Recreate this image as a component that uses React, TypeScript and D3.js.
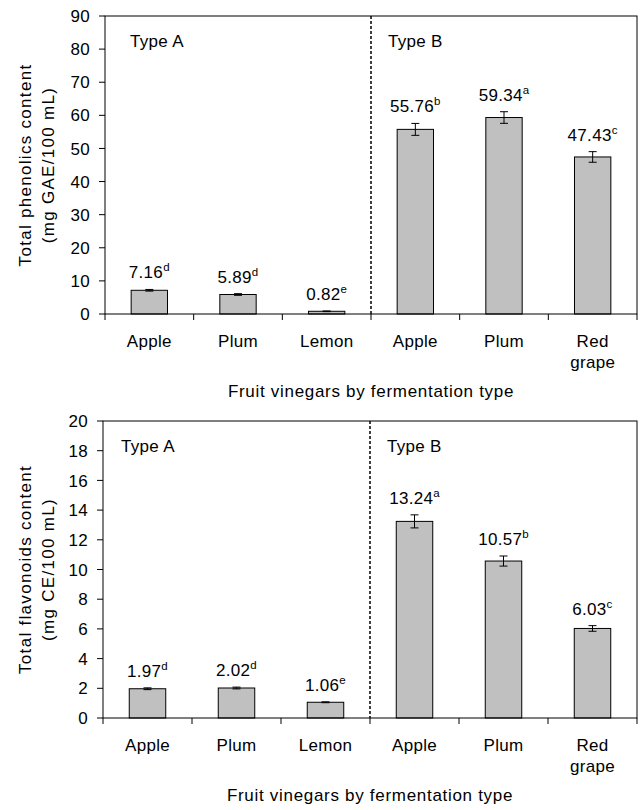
import React from "react";
import * as d3 from "d3";

// categories and groups
const categories = ["Apple", "Plum", "Lemon", "Apple", "Plum", "Red grape"];
const groupLabels = ["Type A", "Type B"];
const xTitle = "Fruit vinegars by fermentation type";

// total phenolics (mg GAE/100 mL)
const phenolicsValues = [7.16, 5.89, 0.82, 55.76, 59.34, 47.43];
const phenolicsErrors = [0.25, 0.25, 0.1, 1.8, 1.75, 1.6];
const phenolicsLetters = ["d", "d", "e", "b", "a", "c"];
const phenolicsTicks = [0, 10, 20, 30, 40, 50, 60, 70, 80, 90];
const phenolicsTitle = ["Total phenolics content", "(mg GAE/100 mL)"];

// total flavonoids (mg CE/100 mL)
const flavonoidsValues = [1.97, 2.02, 1.06, 13.24, 10.57, 6.03];
const flavonoidsErrors = [0.06, 0.06, 0.03, 0.44, 0.34, 0.19];
const flavonoidsLetters = ["d", "d", "e", "a", "b", "c"];
const flavonoidsTicks = [0, 2, 4, 6, 8, 10, 12, 14, 16, 18, 20];
const flavonoidsTitle = ["Total flavonoids content", "(mg CE/100 mL)"];

const FONT = "'Liberation Sans', Arial, sans-serif";
const FS = 17;

function Panel({ left, right, top, bottom, ticks, values, errors, letters, titleLines, typeAOffset }) {
  const idx = categories.map((_, i) => i);
  const x = d3.scaleBand<number>().domain(idx).range([left, right]);
  const y = d3
    .scaleLinear()
    .domain([0, ticks[ticks.length - 1]])
    .range([bottom, top]);
  const bw = x.bandwidth();
  const barW = bw * 0.41;
  const divider = x(3) as number;
  const boundaries = idx.map((i) => x(i) as number).concat([right]);
  const midY = (top + bottom) / 2;

  return (
    <g fontFamily={FONT} fill="#000">
      {/* y title */}
      {titleLines.map((t, i) => (
        <text
          key={t}
          transform={`translate(${25 + i * 23},${midY}) rotate(-90)`}
          textAnchor="middle"
          dy="0.35em"
          fontSize={FS}
          letterSpacing={1.3}
        >
          {t}
        </text>
      ))}

      {/* y axis ticks */}
      {ticks.map((t) => (
        <g key={t}>
          <line x1={left - 6} x2={left} y1={y(t)} y2={y(t)} stroke="#000" />
          <text x={left - 15} y={y(t)} dy="0.36em" textAnchor="end" fontSize={FS} letterSpacing={0.3}>
            {t}
          </text>
        </g>
      ))}

      {/* bars */}
      {values.map((v, i) => {
        const cx = (x(i) as number) + bw / 2;
        return (
          <rect
            key={i}
            x={cx - barW / 2}
            y={y(v)}
            width={barW}
            height={bottom - y(v)}
            fill="#c0c0c0"
            stroke="#000"
            strokeWidth={1}
          />
        );
      })}

      {/* error bars */}
      {values.map((v, i) => {
        const cx = (x(i) as number) + bw / 2;
        const hi = y(v + errors[i]);
        const lo = y(v - errors[i]);
        return (
          <g key={i} stroke="#000" strokeWidth={1}>
            <line x1={cx} x2={cx} y1={hi} y2={lo} />
            <line x1={cx - 4} x2={cx + 4} y1={hi} y2={hi} />
            <line x1={cx - 4} x2={cx + 4} y1={lo} y2={lo} />
          </g>
        );
      })}

      {/* value labels */}
      {values.map((v, i) => {
        const cx = (x(i) as number) + bw / 2;
        return (
          <text key={i} x={cx} y={y(v + errors[i]) - 11} textAnchor="middle" fontSize={FS} letterSpacing={0.3}>
            {v.toFixed(2)}
            <tspan fontSize={11.5} dy={-7}>
              {letters[i]}
            </tspan>
          </text>
        );
      })}

      {/* frame */}
      <rect x={left} y={top} width={right - left} height={bottom - top} fill="none" stroke="#000" />
      <line x1={divider} x2={divider} y1={top} y2={bottom} stroke="#000" strokeWidth={1.5} strokeDasharray="3,2" />

      {/* x ticks */}
      {boundaries.map((b, i) => (
        <line key={i} x1={b} x2={b} y1={bottom} y2={bottom + 6} stroke="#000" />
      ))}

      {/* category labels */}
      {categories.map((c, i) => {
        const cx = (x(i) as number) + bw / 2;
        return (
          <text key={i} x={cx} y={bottom + 33} textAnchor="middle" fontSize={FS} letterSpacing={0.3}>
            {c.split(" ").map((w, j) => (
              <tspan key={j} x={cx} dy={j === 0 ? 0 : 21}>
                {w}
              </tspan>
            ))}
          </text>
        );
      })}

      {/* group labels */}
      <text x={left + typeAOffset} y={top + 31} fontSize={FS} letterSpacing={0.3}>
        {groupLabels[0]}
      </text>
      <text x={divider + 17} y={top + 31} fontSize={FS} letterSpacing={0.3}>
        {groupLabels[1]}
      </text>

      {/* x title */}
      <text x={(left + right) / 2} y={bottom + 83} textAnchor="middle" fontSize={FS} letterSpacing={0.7}>
        {xTitle}
      </text>
    </g>
  );
}

export default function App() {
  return (
    <svg width={640} height={810} style={{ position: "absolute", left: 0, top: 0, background: "#fff" }}>
      <rect width={640} height={810} fill="#fff" />
      <Panel
        left={105}
        right={637}
        top={16}
        bottom={314}
        ticks={phenolicsTicks}
        values={phenolicsValues}
        errors={phenolicsErrors}
        letters={phenolicsLetters}
        titleLines={phenolicsTitle}
        typeAOffset={25}
      />
      <Panel
        left={103}
        right={637}
        top={421}
        bottom={718}
        ticks={flavonoidsTicks}
        values={flavonoidsValues}
        errors={flavonoidsErrors}
        letters={flavonoidsLetters}
        titleLines={flavonoidsTitle}
        typeAOffset={18}
      />
    </svg>
  );
}
